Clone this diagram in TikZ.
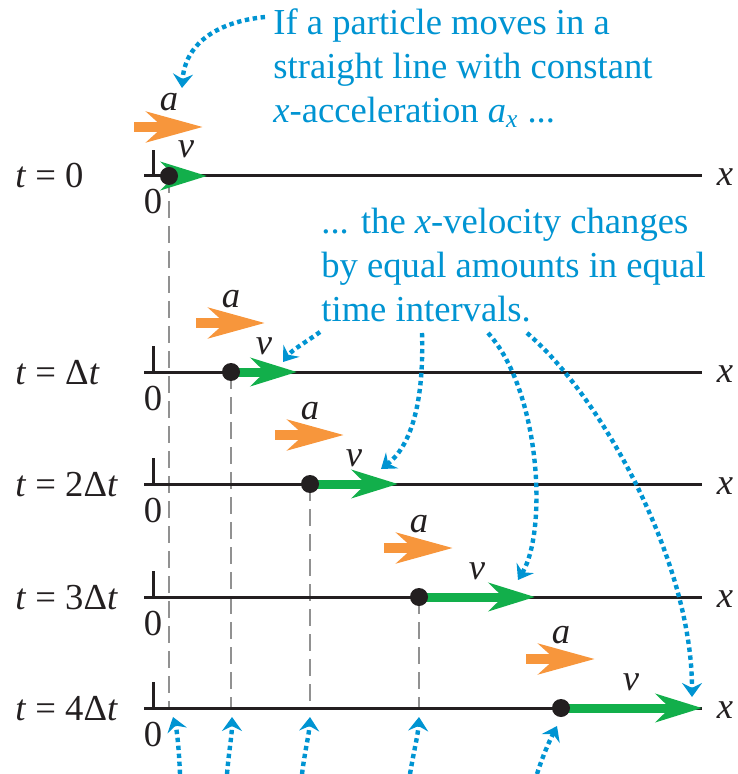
\documentclass[tikz,border=0pt]{standalone}
\usepackage{fontspec}
\setmainfont{Liberation Serif}
\usepackage{tikz}
\usetikzlibrary{arrows.meta,calc}
\definecolor{noteblue}{RGB}{0,148,210}
\definecolor{accorange}{RGB}{247,150,60}
\definecolor{velgreen}{RGB}{18,175,75}
\definecolor{dropgray}{RGB}{145,145,145}
\definecolor{inkblack}{RGB}{35,31,32}
\tikzset{
  axisline/.style={draw=inkblack, line width=1.5pt},
  dropline/.style={draw=dropgray, line width=1pt, dash pattern=on 8.5pt off 4pt},
  velarrow/.style={draw=velgreen, fill=velgreen, line width=4.5pt, -{Stealth[length=23pt,width=14pt,inset=7pt]}},
  accarrow/.style={draw=accorange, fill=accorange, line width=5pt, -{Stealth[length=28pt,width=15pt,inset=8pt]}},
  particle/.style={circle, fill=inkblack, inner sep=0pt, minimum size=9pt},
  notearrow/.style={draw=noteblue, line width=2.2pt, dash pattern=on 2.2pt off 1.8pt, -{Stealth[length=7pt,width=10pt,inset=2.5pt]}},
  notetext/.style={text=noteblue, align=left, anchor=north west, inner sep=0pt},
  lbl/.style={inner sep=0pt, anchor=base, text=inkblack}
}
\begin{document}
\begin{tikzpicture}[x=0.5pt, y=-0.5pt, font=\fontsize{18.3pt}{22pt}\selectfont]
\useasboundingbox (0,0) rectangle (737,774);
%--- particle positions ---
\coordinate (c0) at (169,176);
\coordinate (c1) at (231,372);
\coordinate (c2) at (310,484);
\coordinate (c3) at (419,597);
\coordinate (c4) at (561,708);
\coordinate (base) at (0,708);
% drop lines
\draw[dropline] (c0) -- (c0 |- base);
\draw[dropline] (c1) -- (c1 |- base);
\draw[dropline] (c2) -- (c2 |- base);
\draw[dropline] (c3) -- (c3 |- base);
%--- x axes with origin tick ---
\draw[axisline] (144,176) -- (702,176) (153,176) -- (153,150);
\draw[axisline] (144,372) -- (702,372) (153,372) -- (153,346);
\draw[axisline] (144,484) -- (702,484) (153,484) -- (153,458);
\draw[axisline] (144,597) -- (702,597) (153,597) -- (153,571);
\draw[axisline] (144,708) -- (702,708) (153,708) -- (153,682);
% time labels
\node[lbl, anchor=base west] (t0) at (15,188) {\textit{t} = 0};
\node[lbl, anchor=base west] (t1) at (15,384) {\textit{t} = Δ\textit{t}};
\node[lbl, anchor=base west] (t2) at (15,496) {\textit{t} = 2Δ\textit{t}};
\node[lbl, anchor=base west] (t3) at (15,609) {\textit{t} = 3Δ\textit{t}};
\node[lbl, anchor=base west] (t4) at (15,720) {\textit{t} = 4Δ\textit{t}};
% origin and axis labels
\node[lbl] (o0) at (153,214) {0};
\node[lbl] (o1) at (153,410) {0};
\node[lbl] (o2) at (153,522) {0};
\node[lbl] (o3) at (153,635) {0};
\node[lbl] (o4) at (153,746) {0};
\node[lbl] (x0) at (725,186) {\textit{x}};
\node[lbl] (x1) at (725,382) {\textit{x}};
\node[lbl] (x2) at (725,494) {\textit{x}};
\node[lbl] (x3) at (725,607) {\textit{x}};
\node[lbl] (x4) at (725,718) {\textit{x}};
%--- velocity vectors ---
\coordinate (w0) at (207,176);
\coordinate (w1) at (297,372);
\coordinate (w2) at (398,484);
\coordinate (w3) at (535,597);
\coordinate (w4) at (702,708);
\draw[velarrow] (c0) -- (w0);
\draw[velarrow] (c1) -- (w1);
\draw[velarrow] (c2) -- (w2);
\draw[velarrow] (c3) -- (w3);
\draw[velarrow] (c4) -- (w4);
\node[lbl] (v0) at (186,158) {\textit{v}};
\node[lbl] (v1) at (264,354) {\textit{v}};
\node[lbl] (v2) at (354,466) {\textit{v}};
\node[lbl] (v3) at (477,579) {\textit{v}};
\node[lbl] (v4) at (631,690) {\textit{v}};
%--- acceleration vectors ---
\draw[accarrow] ($(c0)+(-35,-49)$) -- ($(c0)+(34,-49)$);
\draw[accarrow] ($(c1)+(-35,-49)$) -- ($(c1)+(34,-49)$);
\draw[accarrow] ($(c2)+(-35,-49)$) -- ($(c2)+(34,-49)$);
\draw[accarrow] ($(c3)+(-35,-49)$) -- ($(c3)+(34,-49)$);
\draw[accarrow] ($(c4)+(-35,-49)$) -- ($(c4)+(34,-49)$);
\node[lbl] (a0) at ($(c0)+(0,-65)$) {\textit{a}};
\node[lbl] (a1) at ($(c1)+(0,-65)$) {\textit{a}};
\node[lbl] (a2) at ($(c2)+(0,-65)$) {\textit{a}};
\node[lbl] (a3) at ($(c3)+(0,-65)$) {\textit{a}};
\node[lbl] (a4) at ($(c4)+(0,-65)$) {\textit{a}};
% particles
\node[particle] (p0) at (c0) {};
\node[particle] (p1) at (c1) {};
\node[particle] (p2) at (c2) {};
\node[particle] (p3) at (c3) {};
\node[particle] (p4) at (c4) {};
%--- notes ---
\node[notetext] (note1) at (273,8) {If a particle moves in a\\straight line with constant\\\textit{x}-acceleration \textit{a}\textsubscript{\textit{x}} ...};
\node[notetext] (note2) at (321,208) {... the \textit{x}-velocity changes\\by equal amounts in equal\\time intervals.};
\coordinate (n1) at (265,17);
\coordinate (n2) at (320,332);
\coordinate (n3) at (422,333);
\coordinate (n4) at (488,333);
\coordinate (n5) at (527,333);
\draw[notearrow] (n1) .. controls (215,22) and (185,45) .. (182,88);
\draw[notearrow] (n2) .. controls (306,342) and (292,350) .. (283,362);
\draw[notearrow] (n3) .. controls (424,400) and (412,445) .. (381,469);
\draw[notearrow] (n4) .. controls (540,390) and (548,530) .. (518,580);
\draw[notearrow] (n5) .. controls (600,395) and (692,560) .. (692,697);
% arrows to the positions on the x axis
\draw[notearrow] (180,774) .. controls (179,750) and (177,730) .. (173,717);
\draw[notearrow] (227,774) .. controls (229,750) and (232,735) .. (232,717);
\draw[notearrow] (302,774) .. controls (305,750) and (309,735) .. (310,717);
\draw[notearrow] (410,774) .. controls (414,750) and (418,735) .. (419,717);
\draw[notearrow] (537,774) .. controls (544,752) and (551,738) .. (557,726);
\end{tikzpicture}
\end{document}
